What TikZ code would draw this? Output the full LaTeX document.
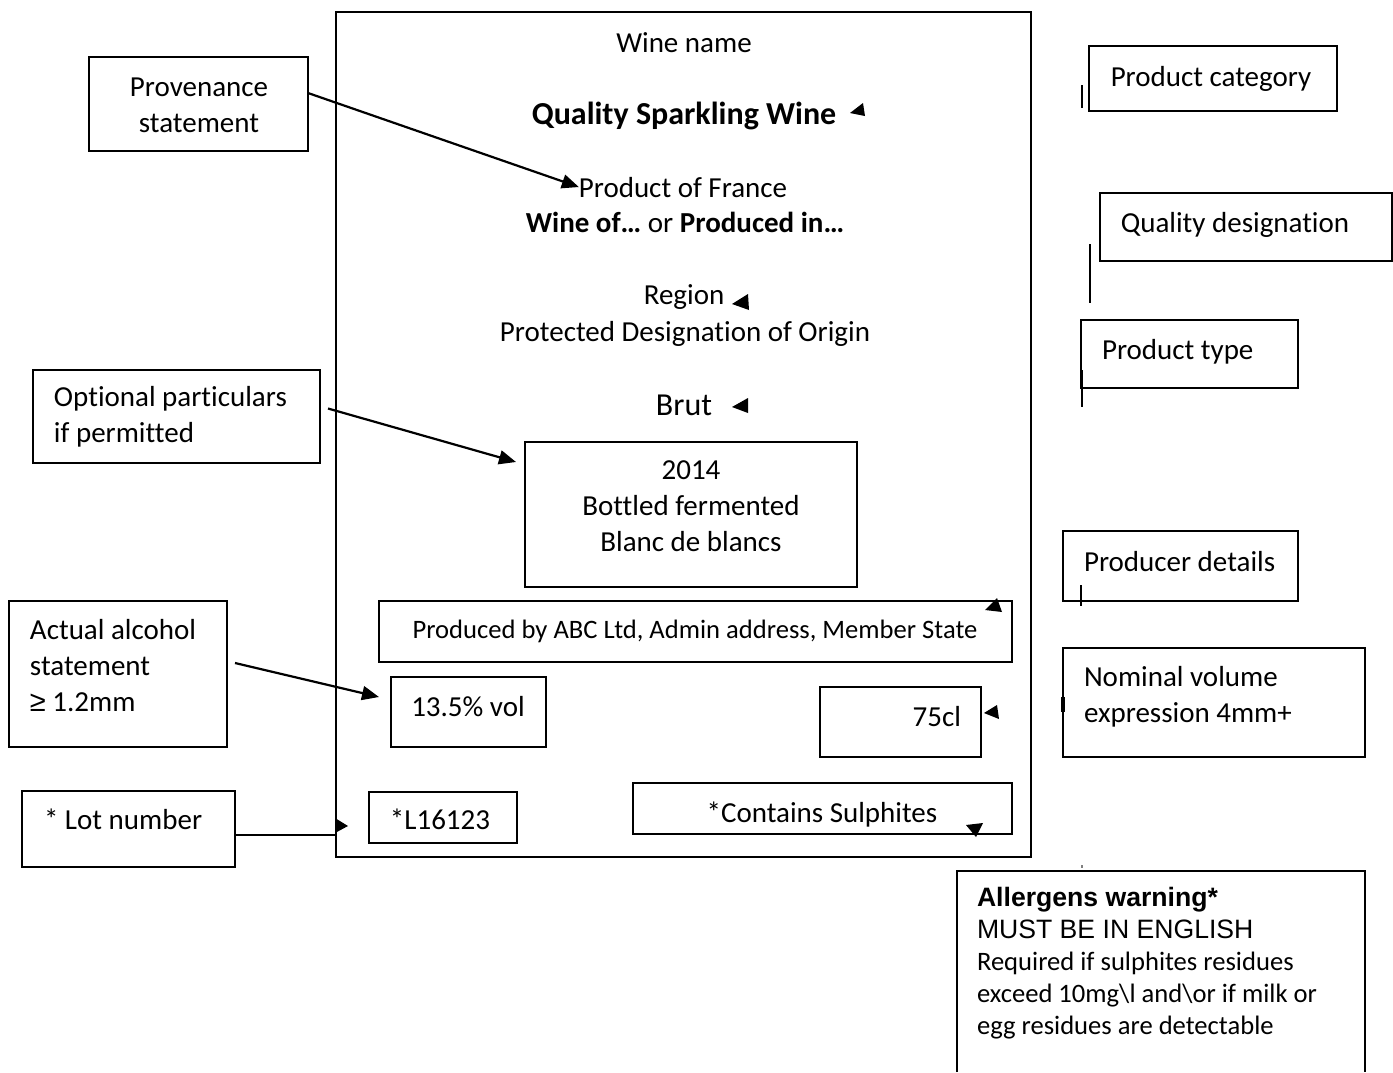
\documentclass[tikz,border=0pt]{standalone}
\usepackage{fontspec}
\setmainfont[Ligatures=NoCommon]{Carlito}
\newfontfamily\arialf{Liberation Sans}
\usetikzlibrary{arrows.meta,fit}
\begin{document}
\begin{tikzpicture}[x=0.5pt,y=-0.5pt,
  every node/.style={font=\fontsize{14.5}{18}\selectfont, inner sep=0pt, outer sep=0pt},
  box/.style={draw, line width=1pt, inner sep=0pt, outer sep=0pt},
  bold/.style={font=\fontsize{16}{19}\selectfont\bfseries},
  small/.style={font=\fontsize{13.3}{16}\selectfont},
  arr/.style={line width=1.1pt, -{Triangle[length=8.5pt,width=7pt]}},
  stub/.style={line width=1.4pt}
]
\useasboundingbox (0,0) rectangle (1393,1072);
\fill[white] (0,0) rectangle (1393,1072);

% main label
\node[box, fit={(336,12) (1031,857)}] (wl) {};
\node[anchor=base] (wname) at (684,52) {Wine name};
\node[anchor=base, bold] (qsw) at (684,124) {Quality Sparkling Wine};
\node[anchor=base] (pof) at (683,197) {Product of France};
\node[anchor=base] (wof) at (685,232) {\textbf{Wine of…} or \textbf{Produced in…}};
\node[anchor=base] (reg) at (684,304) {Region};
\node[anchor=base] (pdo) at (685,341) {Protected Designation of Origin};
\node[anchor=base, font=\fontsize{16}{19}\selectfont] (brut) at (684,415) {Brut};

% free arrowheads
\fill (850,113) -- (863,103) -- (865,116) -- cycle;
\fill (732,304) -- (748,294) -- (749,310) -- cycle;
\fill (732,407) -- (748,398) -- (748,413) -- cycle;
\fill (985,610) -- (997,598) -- (1002,612) -- cycle;
\fill (984,713) -- (997,705) -- (999,719) -- cycle;
\fill (966,825) -- (983,823) -- (976,837) -- cycle;

% inner boxes (text nodes anchored at the baseline of their last line)
\node[box, fit={(525,442) (857,587)}] (yr) {};
\node[anchor=base, align=center] (yrt) at (691,551) {2014\\Bottled fermented\\Blanc de blancs};
\node[box, fit={(379,601) (1012,662)}] (prodby) {};
\node[anchor=base, small] (prodbyt) at (695,638) {Produced by ABC Ltd, Admin address, Member State};
\node[box, fit={(391,677) (546,747)}] (abv) {};
\node[anchor=base] (abvt) at (468,716) {13.5\% vol};
\node[box, fit={(820,687) (981,757)}] (vol) {};
\node[anchor=base east] (volt) at (961,726) {75cl};
\node[box, fit={(633,783) (1012,834)}] (sul) {};
\node[anchor=base] (sult) at (822,822) {*Contains Sulphites};
\node[box, fit={(369,792) (517,843)}] (lotn) {};
\node[anchor=base] (lotnt) at (440,829) {*L16123};

% left boxes
\node[box, fit={(89,57) (308,151)}] (prov) {};
\node[anchor=base, align=center] (provt) at (199,132) {Provenance\\statement};
\node[box, fit={(33,370) (320,463)}] (opt) {};
\node[anchor=base west, align=left] (optt) at (54,442) {Optional particulars\\if permitted};
\node[box, fit={(9,601) (227,747)}] (alc) {};
\node[anchor=base west, align=left] (alct) at (30,711) {Actual alcohol\\statement\\{\arialf ≥} 1.2mm};
\node[box, fit={(22,791) (235,867)}] (lot) {};
\node[anchor=base west] (lott) at (44,829) {* Lot number};

% right boxes
\node[box, fit={(1089,46) (1337,111)}] (cat) {};
\node[anchor=base] (catt) at (1211,86) {Product category};
\node[box, fit={(1100,193) (1392,261)}] (qd) {};
\node[anchor=base] (qdt) at (1235,232) {Quality designation};
\node[box, fit={(1081,320) (1298,388)}] (pt) {};
\node[anchor=base west] (ptt) at (1102,359) {Product type};
\node[box, fit={(1063,531) (1298,601)}] (pd) {};
\node[anchor=base west] (pdt) at (1084,571) {Producer details};
\node[box, fit={(1063,648) (1365,757)}] (nv) {};
\node[anchor=base west, align=left] (nvt) at (1084,722) {Nominal volume\\expression 4mm+};

% allergens
\draw[line width=1pt] (957,1072) -- (957,871) -- (1365,871) -- (1365,1072);
\node[anchor=base west, align=left, font=\fontsize{13.3}{16}\selectfont] (alg) at (977,1034)
  {{\arialf\bfseries Allergens warning*}\\{\arialf MUST BE IN ENGLISH}\\Required if sulphites residues\\exceed 10mg\textbackslash l and\textbackslash or if milk or\\egg residues are detectable};

% stubs
\draw[stub] (1082,85) -- (1082,108);
\draw[stub] (1090,244) -- (1090,303);
\draw[stub] (1082,370) -- (1082,407);
\draw[stub] (1081,585) -- (1081,606);
\draw[line width=2pt] (1063,697) -- (1063,712);
\draw[gray, line width=0.6pt] (1082,865) -- (1082,868);

% connectors
\draw[arr] ([yshift=5.5pt]prov.east) -- (pof.west);
\draw[arr] ([xshift=4pt,yshift=4pt]opt.east) -- ([xshift=-4.5pt,yshift=-10pt]yr.north west);
\draw[arr] ([xshift=4pt,yshift=5.5pt]alc.east) -- ([xshift=-6pt,yshift=7.5pt]abv.west);
\coordinate (lotA) at ([yshift=-3pt]lot.east);
\draw[line width=1.1pt] (lotA) -- (lotA -| wl.west);
\fill (335,818) -- (348,826) -- (335,833) -- cycle;
\end{tikzpicture}
\end{document}
